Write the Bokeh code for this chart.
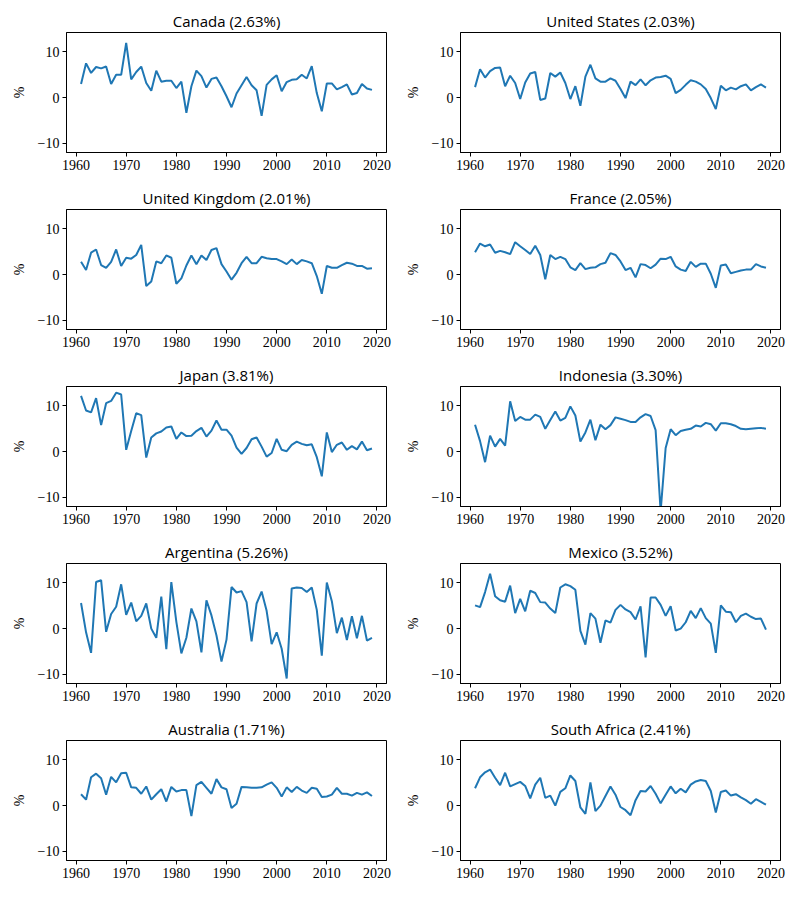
from bokeh.plotting import figure
from bokeh.layouts import gridplot
from bokeh.models import Range1d, FixedTicker
from bokeh.embed import file_html
from bokeh.resources import INLINE

years = list(range(1961, 2020))

canada = [3.0, 7.5, 5.4, 6.7, 6.4, 6.8, 3.0, 5.0, 5.0, 12.0,
          4.0, 5.6, 6.8, 3.2, 1.5, 5.9, 3.5, 3.7, 3.7, 2.1,
          3.5, -3.3, 2.5, 5.9, 4.7, 2.2, 4.1, 4.4, 2.5, 0.3,
          -2.1, 0.9, 2.7, 4.5, 2.7, 1.6, -4.0, 2.8, 4.0, 4.9,
          1.4, 3.4, 3.9, 4.0, 5.0, 4.2, 6.9, 1.0, -3.0, 3.1,
          3.1, 1.8, 2.3, 2.9, 0.7, 1.0, 3.0, 2.0, 1.7]

united_states = [2.3, 6.2, 4.4, 5.8, 6.5, 6.6, 2.5, 4.8, 3.2, -0.3,
                 3.3, 5.3, 5.6, -0.5, -0.2, 5.4, 4.6, 5.5, 3.2, -0.3,
                 2.5, -1.8, 4.6, 7.2, 4.2, 3.5, 3.5, 4.2, 3.7, 1.9,
                 -0.1, 3.5, 2.75, 4.0, 2.7, 3.8, 4.4, 4.5, 4.8, 4.1,
                 1.0, 1.7, 2.8, 3.8, 3.5, 2.9, 1.9, -0.1, -2.5, 2.6,
                 1.6, 2.2, 1.8, 2.5, 2.9, 1.6, 2.3, 2.9, 2.2]

united_kingdom = [2.8, 1.0, 4.8, 5.5, 2.1, 1.5, 2.8, 5.5, 1.9, 3.7,
                  3.5, 4.3, 6.5, -2.5, -1.5, 2.9, 2.5, 4.2, 3.7, -2.0,
                  -0.8, 2.0, 4.2, 2.3, 4.2, 3.2, 5.4, 5.8, 2.3, 0.7,
                  -1.1, 0.4, 2.5, 3.9, 2.5, 2.5, 3.9, 3.6, 3.4, 3.4,
                  2.9, 2.3, 3.3, 2.3, 3.2, 2.9, 2.5, -0.3, -4.2, 1.9,
                  1.5, 1.5, 2.1, 2.6, 2.4, 1.9, 1.9, 1.3, 1.4]

france = [4.9, 6.8, 6.2, 6.6, 4.8, 5.2, 4.9, 4.5, 7.1, 6.2,
          5.4, 4.5, 6.3, 4.3, -1.0, 4.3, 3.4, 3.9, 3.4, 1.6,
          1.0, 2.5, 1.2, 1.5, 1.6, 2.3, 2.6, 4.7, 4.3, 2.9,
          1.0, 1.5, -0.6, 2.3, 2.1, 1.4, 2.2, 3.5, 3.4, 3.9,
          1.8, 1.1, 0.8, 2.8, 1.7, 2.4, 2.4, 0.2, -2.9, 2.0,
          2.2, 0.3, 0.6, 0.9, 1.1, 1.1, 2.3, 1.8, 1.5]

japan = [12.2, 9.0, 8.6, 11.7, 5.8, 10.6, 11.1, 12.9, 12.5, 0.4,
         4.5, 8.4, 8.0, -1.3, 3.1, 4.0, 4.4, 5.3, 5.5, 2.8,
         4.2, 3.4, 3.5, 4.5, 5.2, 3.3, 4.6, 6.8, 4.8, 4.8,
         3.5, 0.9, -0.5, 0.8, 2.7, 3.1, 1.1, -1.1, -0.3, 2.8,
         0.4, 0.1, 1.5, 2.2, 1.7, 1.4, 1.6, -1.2, -5.4, 4.2,
         -0.1, 1.5, 2.0, 0.4, 1.2, 0.5, 2.2, 0.3, 0.7]

indonesia = [5.9, 2.3, -2.3, 3.5, 1.1, 2.8, 1.3, 11.0, 6.7, 7.6,
             7.0, 7.0, 8.1, 7.6, 5.0, 6.9, 8.8, 6.8, 7.4, 9.9,
             7.9, 2.2, 4.2, 7.0, 2.5, 5.9, 4.9, 5.8, 7.5, 7.2,
             6.9, 6.5, 6.5, 7.5, 8.2, 7.8, 4.7, -13.1, 0.8, 4.9,
             3.6, 4.5, 4.8, 5.0, 5.7, 5.5, 6.3, 6.0, 4.6, 6.2,
             6.2, 6.0, 5.6, 5.0, 4.9, 5.0, 5.1, 5.2, 5.0]

argentina = [5.6, -0.8, -5.3, 10.2, 10.6, -0.7, 3.2, 4.8, 9.7, 3.0,
             5.7, 1.6, 2.8, 5.5, 0.0, -2.0, 7.0, -4.5, 10.2, 1.5,
             -5.4, -2.0, 4.4, 1.6, -5.2, 6.2, 2.9, -1.5, -7.2, -2.4,
             9.1, 7.9, 8.2, 5.8, -2.8, 5.5, 8.1, 3.9, -3.4, -0.8,
             -4.4, -10.9, 8.8, 9.0, 8.9, 8.0, 9.0, 4.1, -5.9, 10.1,
             6.0, -1.0, 2.4, -2.5, 2.7, -2.1, 2.8, -2.6, -2.0]

mexico = [5.1, 4.7, 8.0, 12.0, 7.1, 6.2, 5.9, 9.4, 3.4, 6.5,
          3.8, 8.3, 7.8, 5.8, 5.7, 4.4, 3.4, 9.0, 9.7, 9.3,
          8.5, -0.5, -3.5, 3.4, 2.2, -3.1, 1.8, 1.3, 4.1, 5.2,
          4.2, 3.6, 2.0, 4.9, -6.3, 6.8, 6.8, 5.2, 2.8, 4.9,
          -0.4, 0.0, 1.4, 3.9, 2.3, 4.5, 2.3, 1.1, -5.3, 5.1,
          3.7, 3.6, 1.4, 2.8, 3.3, 2.6, 2.1, 2.2, -0.2]

australia = [2.5, 1.3, 6.2, 7.0, 6.0, 2.4, 6.3, 5.1, 7.1, 7.2,
             4.0, 3.9, 2.6, 4.2, 1.3, 2.5, 3.6, 0.9, 4.1, 3.1,
             3.4, 3.4, -2.3, 4.5, 5.2, 3.9, 2.6, 5.8, 4.0, 3.6,
             -0.5, 0.4, 4.1, 4.0, 3.9, 3.9, 4.0, 4.6, 5.1, 3.9,
             2.0, 4.0, 3.0, 4.1, 3.3, 2.8, 3.9, 3.7, 1.9, 2.0,
             2.4, 3.9, 2.6, 2.6, 2.2, 2.8, 2.4, 2.9, 2.1]

south_africa = [3.8, 6.2, 7.3, 7.9, 6.1, 4.5, 7.2, 4.2, 4.7, 5.2,
                4.3, 1.6, 4.6, 6.1, 1.7, 2.2, 0.0, 3.0, 3.8, 6.6,
                5.4, -0.4, -1.8, 5.1, -1.2, 0.0, 2.1, 4.2, 2.4, -0.3,
                -1.0, -2.1, 1.2, 3.2, 3.1, 4.3, 2.6, 0.5, 2.4, 4.2,
                2.7, 3.7, 2.9, 4.6, 5.3, 5.6, 5.4, 3.2, -1.5, 3.0,
                3.3, 2.2, 2.5, 1.8, 1.2, 0.4, 1.4, 0.8, 0.2]

titles = ["Canada (2.63%)", "United States (2.03%)",
          "United Kingdom (2.01%)", "France (2.05%)",
          "Japan (3.81%)", "Indonesia (3.30%)",
          "Argentina (5.26%)", "Mexico (3.52%)",
          "Australia (1.71%)", "South Africa (2.41%)"]
series = [canada, united_states, united_kingdom, france, japan,
          indonesia, argentina, mexico, australia, south_africa]

x_ticks = [1960, 1970, 1980, 1990, 2000, 2010, 2020]
y_ticks = [-10, 0, 10]
y_tick_labels = {-10: "\u221210", 0: "0", 10: "10"}

SERIF = "Liberation Serif"
SANS = "Open Sans"

figs = []
for i, (t, vals) in enumerate(zip(titles, series)):
    left_col = (i % 2 == 0)
    p = figure(frame_width=320, frame_height=120,
               min_border_left=66 if left_col else 61,
               min_border_right=13 if left_col else 12,
               min_border_top=32, min_border_bottom=25,
               x_range=Range1d(1958.1, 2021.9),
               y_range=Range1d(-12.0, 14.25),
               output_backend="svg", toolbar_location=None,
               tools="", title=t)
    p.line(years, vals, line_color="#1f77b4", line_width=2)
    p.title.align = "center"
    p.title.text_font = SANS
    p.title.text_font_size = "15px"
    p.title.text_font_style = "normal"
    p.title.text_color = "black"
    p.title.standoff = 4
    p.grid.visible = False
    p.outline_line_color = "black"
    p.outline_line_width = 1
    p.outline_line_alpha = 1
    p.background_fill_color = "white"
    p.border_fill_color = "white"
    p.xaxis.ticker = FixedTicker(ticks=x_ticks)
    p.yaxis.ticker = FixedTicker(ticks=y_ticks)
    p.yaxis.major_label_overrides = y_tick_labels
    p.yaxis.axis_label = "%"
    for ax in (p.xaxis, p.yaxis):
        ax.axis_line_color = "black"
        ax.major_tick_line_color = "black"
        ax.major_tick_out = 4
        ax.major_tick_in = 0
        ax.minor_tick_line_color = None
        ax.major_label_text_font = SERIF
        ax.major_label_text_font_size = "14px"
        ax.major_label_text_color = "black"
        ax.major_label_standoff = 3
    p.yaxis.axis_label_text_font = SERIF
    p.yaxis.axis_label_text_font_size = "14px"
    p.yaxis.axis_label_text_font_style = "normal"
    p.yaxis.axis_label_text_color = "black"
    p.yaxis.axis_label_standoff = 8
    figs.append(p)

grid = gridplot([[figs[2 * r], figs[2 * r + 1]] for r in range(5)],
                toolbar_location=None)

open("out.html", "w").write(file_html(grid, INLINE))
